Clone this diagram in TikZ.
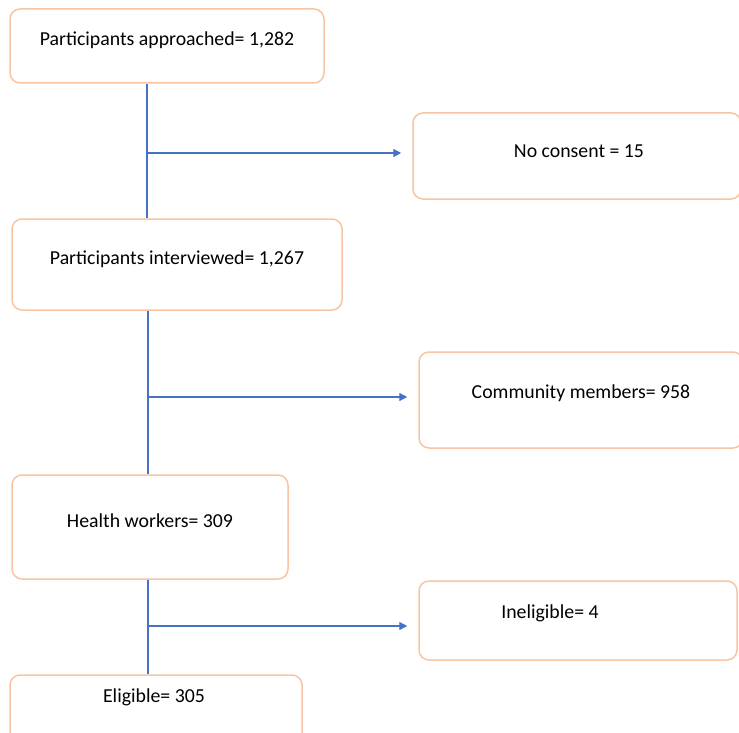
\documentclass[tikz,border=0pt]{standalone}
\usepackage{fontspec}
\setmainfont{Carlito}
\usetikzlibrary{arrows.meta,calc}

\definecolor{boxline}{HTML}{F8C4A2}
\definecolor{flowline}{HTML}{4472C4}

\tikzset{
  box/.style={draw=boxline, line width=1.5pt, rounded corners=10pt},
  txt/.style={inner sep=0pt, font=\fontsize{19.8}{22}\selectfont},
  flow/.style={draw=flowline, line width=1.3pt},
  arr/.style={flow, -{Triangle[length=8pt,width=8pt]}, shorten >=11pt}
}

\begin{document}
\begin{tikzpicture}[x=1pt, y=-1pt]
            \useasboundingbox (0,0) rectangle (739,733);
            % left column
            \node[box, minimum width=314pt, minimum height=74pt] at (167,46) (approached) {};
            \node[box, minimum width=330pt, minimum height=91pt] at (177,264.5) (interviewed) {};
            \node[box, minimum width=276pt, minimum height=104pt] at (150,527) (health) {};
            \node[box, minimum width=292pt, minimum height=72pt] at (156,711) (eligible) {};
            % right column
            \node[box, minimum width=328pt, minimum height=86pt] at (577,156) (noconsent) {};
            \node[box, minimum width=324pt, minimum height=96pt] at (581,400) (community) {};
            \node[box, minimum width=318pt, minimum height=79pt] at (578,620.5) (ineligible) {};
            % texts
            \node[txt] at (167,40) (approached-t) {Participants approached= 1,282};
            \node[txt] at (177,259) (interviewed-t) {Participants interviewed= 1,267};
            \node[txt] at (150,521) (health-t) {Health workers= 309};
            \node[txt] at (154,697) (eligible-t) {Eligible= 305};
            \node[txt] at (579,151) (noconsent-t) {No consent = 15};
            \node[txt] at (581,393) (community-t) {Community members= 958};
            \node[txt] at (550,613) (ineligible-t) {Ineligible= 4};
            % trunk and branches
            \coordinate (s1) at (147,153);
            \coordinate (s2) at (148,397);
            \coordinate (s3) at (148,626);
            \draw[flow] (approached.south -| s1) -- (interviewed.north -| s1);
            \draw[flow] (interviewed.south -| s2) -- (health.north -| s2);
            \draw[flow] (health.south -| s3) -- (eligible.north -| s3);
            \draw[arr] (s1) -- (s1 -| noconsent.west);
            \draw[arr] (s2) -- (s2 -| community.west);
            \draw[arr] (s3) -- (s3 -| ineligible.west);
\end{tikzpicture}
\end{document}
